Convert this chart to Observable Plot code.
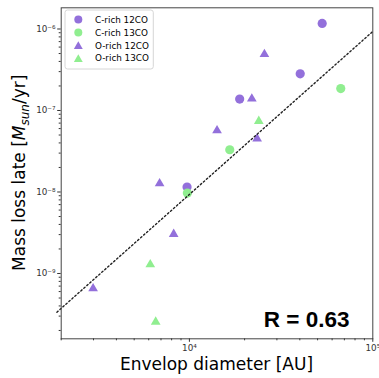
<!DOCTYPE html>
<html><head><meta charset="utf-8">
<script src="https://cdn.jsdelivr.net/npm/d3@7"></script>
<script src="https://cdn.jsdelivr.net/npm/@observablehq/plot@0.6"></script>
<style>body{margin:0;background:#fff;} svg{display:block;}</style>
</head><body><div id="chart"></div>
<script>
// ---- data ----
const seriesNames = ["C-rich 12CO", "C-rich 13CO", "O-rich 12CO", "O-rich 13CO"];
const seriesColors = ["#9370DB", "#90EE90", "#9370DB", "#90EE90"];
const seriesSymbols = ["circle", "circle", "triangle", "triangle"];

const cRich12X = [52970, 40200, 18800, 9710];
const cRich12Y = [1.17e-6, 2.82e-7, 1.38e-7, 1.15e-8];
const cRich13X = [66900, 16600, 9750];
const cRich13Y = [1.86e-7, 3.3e-8, 9.7e-9];
const oRich12X = [25650, 21900, 14150, 23400, 6880, 8210, 2985];
const oRich12Y = [5.1e-7, 1.45e-7, 5.9e-8, 4.7e-8, 1.32e-8, 3.16e-9, 6.8e-10];
const oRich13X = [23900, 6120, 6550];
const oRich13Y = [7.7e-8, 1.34e-9, 2.65e-10];

// fit line: log10(y) = slope*log10(x) + intercept
const fitSlope = 2.0;
const fitIntercept = -16.03;
const fitXRange = [1895, 100000];

const xTicks = [1e4, 1e5];
const xTickLabels = ["10⁴", "10⁵"];
const yTicks = [1e-9, 1e-8, 1e-7, 1e-6];
const yTickLabels = ["10⁻⁹", "10⁻⁸", "10⁻⁷", "10⁻⁶"];
const xDomain = [2000, 1e5];
const yDomain = [1.58e-10, 1.82e-6];
const rText = "R = 0.63";

// ---- build tables ----
const xs = [cRich12X, cRich13X, oRich12X, oRich13X];
const ys = [cRich12Y, cRich13Y, oRich12Y, oRich13Y];
const points = [];
xs.forEach((arr, s) => arr.forEach((x, i) => points.push({x, y: ys[s][i], s})));
const fit = fitXRange.map(x => ({x, y: Math.pow(10, fitSlope * Math.log10(x) + fitIntercept)}));

function minorTicks(lo, hi) {
  const out = [];
  for (let e = Math.floor(Math.log10(lo)); e <= Math.ceil(Math.log10(hi)); e++) {
    for (let m = 2; m <= 9; m++) {
      const v = m * Math.pow(10, e);
      if (v >= lo * 0.999 && v <= hi) out.push(v);
    }
  }
  return out;
}

const W = 379, H = 378;
const mL = 60.7, mR = 6.7, mT = 7.3, mB = 39.7;

const chart = Plot.plot({
  width: W, height: H,
  marginLeft: mL, marginRight: mR, marginTop: mT, marginBottom: mB,
  x: {type: "log", domain: xDomain},
  y: {type: "log", domain: yDomain},
  style: {fontFamily: "DejaVu Sans", fontSize: "8.8px", color: "#333", background: "#fff", overflow: "visible"},
  marks: [
    Plot.axisX({ticks: minorTicks(xDomain[0], xDomain[1]), tickFormat: () => "", tickSize: 2, label: null}),
    Plot.axisY({ticks: minorTicks(yDomain[0], yDomain[1]), tickFormat: () => "", tickSize: 2, label: null}),
    Plot.axisX({ticks: xTicks, tickFormat: d => xTickLabels[xTicks.indexOf(d)], tickSize: 3.5, tickPadding: 2.5, label: null}),
    Plot.axisY({ticks: yTicks, tickFormat: d => yTickLabels[yTicks.indexOf(d)], tickSize: 3.5, tickPadding: 2.2, label: null}),
    Plot.dot(points.filter(d => seriesSymbols[d.s] === "circle"), {
      x: "x", y: "y", r: 4.6, symbol: "circle", fill: d => seriesColors[d.s], stroke: "none"
    }),
    Plot.dot(points.filter(d => seriesSymbols[d.s] === "triangle"), {
      x: "x", y: "y", r: 3.6, symbol: "triangle", dy: 1.4, fill: d => seriesColors[d.s], stroke: "none"
    }),
    Plot.line(fit, {x: "x", y: "y", stroke: "#222", strokeWidth: 1.4, strokeDasharray: "1.6,2.4", clip: false}),
    Plot.frame({stroke: "#444", strokeWidth: 1})
  ]
});

document.getElementById("chart").appendChild(chart);
const svg = d3.select(chart);
const plotCx = mL + (W - mL - mR) / 2;
const plotCy = mT + (H - mT - mB) / 2;

// x label
svg.append("text")
  .attr("x", plotCx).attr("y", 370)
  .attr("text-anchor", "middle")
  .attr("font-family", "DejaVu Sans").attr("font-size", 17).attr("fill", "#000")
  .text("Envelop diameter [AU]");

// y label
const yl = svg.append("text")
  .attr("transform", `translate(25.3,${plotCy}) rotate(-90)`)
  .attr("text-anchor", "middle")
  .attr("font-family", "DejaVu Sans").attr("font-size", 17).attr("fill", "#000");
yl.append("tspan").text("Mass loss late [");
yl.append("tspan").attr("font-style", "italic").text("M");
yl.append("tspan").attr("font-style", "italic").attr("font-size", 12).attr("dy", 3.5).text("sun");
yl.append("tspan").attr("dy", -3.5).text("/yr]");

// R value
svg.append("text")
  .attr("x", 349.5).attr("y", 326.7)
  .attr("text-anchor", "end")
  .attr("font-family", "Liberation Sans").attr("font-weight", "bold").attr("font-size", 22.5).attr("fill", "#000")
  .text(rText);

// legend
const lg = svg.append("g");
lg.append("rect").attr("x", 65).attr("y", 10).attr("width", 88.3).attr("height", 59)
  .attr("rx", 2.5).attr("fill", "#fff").attr("fill-opacity", 0.8).attr("stroke", "#ccc").attr("stroke-width", 0.8);
seriesNames.forEach((name, i) => {
  const cy = 19.6 + i * 12.85;
  const sym = seriesSymbols[i] === "circle" ? d3.symbolCircle : d3.symbolTriangle;
  const size = seriesSymbols[i] === "circle" ? Math.PI * 4 * 4 : Math.PI * 3.3 * 3.3;
  lg.append("path").attr("d", d3.symbol(sym, size)())
    .attr("transform", `translate(78.3,${cy + (seriesSymbols[i] === "triangle" ? 1.2 : 0)})`)
    .attr("fill", seriesColors[i]);
  lg.append("text").attr("x", 95).attr("y", cy + 3.2)
    .attr("text-anchor", "start")
    .attr("font-family", "DejaVu Sans").attr("font-size", 8.8).attr("fill", "#000")
    .text(name);
});
</script>
</body></html>
